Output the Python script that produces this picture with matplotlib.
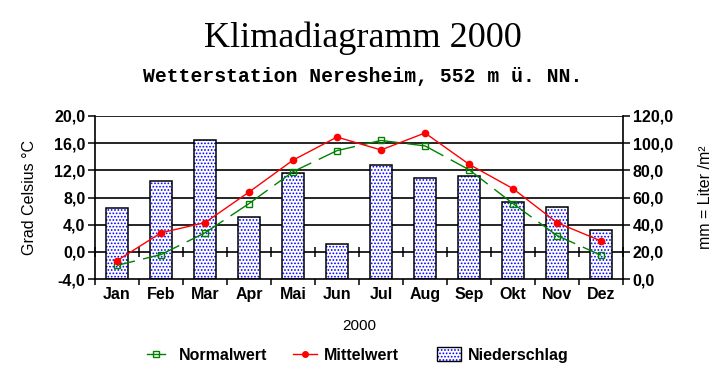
import numpy as np
import matplotlib
matplotlib.use("Agg")
from matplotlib import pyplot as plt
from matplotlib.ticker import FuncFormatter, FixedLocator
from matplotlib.lines import Line2D
from matplotlib.patches import Patch
from matplotlib.legend_handler import HandlerTuple

months = ["Jan", "Feb", "Mar", "Apr", "Mai", "Jun", "Jul", "Aug", "Sep", "Okt", "Nov", "Dez"]
niederschlag = [52, 72, 102, 46, 78, 26, 84, 74, 76, 57, 53, 36]
mittelwert = [-1.3, 2.8, 4.3, 8.8, 13.5, 16.9, 15.0, 17.5, 12.9, 9.3, 4.3, 1.6]
normalwert = [-2.0, -0.4, 2.8, 7.1, 11.8, 14.9, 16.4, 15.6, 12.1, 7.1, 2.4, -0.5]
temp_ticks = [-4, 0, 4, 8, 12, 16, 20]
mm_ticks = [0, 20, 40, 60, 80, 100, 120]

plt.rcParams['font.family'] = ['Liberation Sans', 'DejaVu Sans']
plt.rcParams['hatch.linewidth'] = 0.8
comma = FuncFormatter(lambda v, p: f"{v:.1f}".replace(".", ","))
HATCH = "....."

fig = plt.figure(figsize=(7.25, 3.84), dpi=100)
fig.patch.set_facecolor("white")
rect = [95/725, 1-279/384, 528/725, 163/384]

# precipitation axis underneath (bars + grid)
axp = fig.add_axes(rect)
x = np.arange(len(months))
axp.set_xlim(-0.5, 11.5)
axp.set_ylim(0, 120)
for v in mm_ticks[1:]:
    axp.axhline(v, color="black", lw=1.2, zorder=0)
axp.bar(x, niederschlag, width=0.52, color="white", edgecolor="#0000ff",
        hatch=HATCH, lw=0, zorder=2)
axp.bar(x, niederschlag, width=0.52, fill=False, edgecolor="black", lw=1.1, zorder=3)
axp.yaxis.tick_right()
axp.yaxis.set_label_position("right")
axp.set_yticks(mm_ticks)
axp.yaxis.set_major_formatter(comma)
axp.set_xticks(x)
axp.set_xticklabels(months)
axp.xaxis.set_minor_locator(FixedLocator(np.arange(-0.5, 12, 1)))
axp.tick_params(axis="x", which="major", length=0, pad=6, labelsize=11.5)
axp.tick_params(axis="x", which="minor", length=4, direction="out", width=1.1)
axp.tick_params(axis="y", length=5, width=1.1, labelsize=11.5, pad=2)
for lab in axp.get_xticklabels() + axp.get_yticklabels():
    lab.set_fontweight("bold")
for s in ["top", "left"]:
    axp.spines[s].set_visible(False)
axp.spines["right"].set_linewidth(1.2)
axp.spines["bottom"].set_linewidth(1.2)
axp.set_ylabel("mm = Liter /m²", fontsize=11.5, labelpad=18)
axp.set_xlabel("2000", fontsize=11, labelpad=12)

# temperature axis on top
axt = fig.add_axes(rect, sharex=axp)
axt.patch.set_alpha(0)
axt.set_ylim(-4, 20)

# Normalwert: dashed per segment, gap in the middle of each segment
pts = axt.transData.transform(np.column_stack([x, normalwert]))
gap = 6.0  # points
for i in range(len(x) - 1):
    seg = np.hypot(*(pts[i + 1] - pts[i])) * 72 / fig.dpi
    half = max((seg - gap) / 2, 1)
    axt.plot(x[i:i + 2], normalwert[i:i + 2], color="#008000", lw=1,
             ls=(0, (half, gap, half, 1000)), zorder=4)
axt.plot(x, normalwert, ls="none", marker="s", ms=4, mfc="none", mec="#008000",
         mew=1, zorder=4)
axt.plot(x, mittelwert, color="#ff0000", lw=1, marker="o", ms=4.5, zorder=5)
axt.set_yticks(temp_ticks)
axt.yaxis.set_major_formatter(comma)
axt.tick_params(axis="y", length=5, width=1.1, labelsize=11.5, pad=2)
for lab in axt.get_yticklabels():
    lab.set_fontweight("bold")
axt.spines["bottom"].set_position(("data", 0))
axt.spines["bottom"].set_visible(False)
axt.spines["top"].set_visible(False)
axt.spines["right"].set_visible(False)
axt.spines["left"].set_linewidth(1.2)
axt.tick_params(axis="x", which="major", length=0, labelbottom=False)
axt.tick_params(axis="x", which="minor", length=7, direction="inout", width=1.1)
axt.xaxis.set_minor_locator(FixedLocator(np.arange(-0.5, 12, 1)))
axt.set_ylabel("Grad Celsius °C", fontsize=11.5, labelpad=12)

fig.text(0.5, 1-38/384, "Klimadiagramm 2000", ha="center", va="center",
         fontsize=26, family="Liberation Serif")
fig.text(0.5, 1-76/384, "Wetterstation Neresheim, 552 m ü. NN.", ha="center",
         va="center", fontsize=14.2, family="Liberation Mono", fontweight="bold")

# legend: three separate entries
bar_handle = (Patch(facecolor="white", edgecolor="#0000ff", hatch=HATCH, lw=0),
              Patch(fill=False, edgecolor="black", lw=1))
entries = [
    (Line2D([], [], color="#008000", lw=1, marker="s", ms=4, mfc="none"), "Normalwert", 147, 1.1, 0.9, 0.7),
    (Line2D([], [], color="#ff0000", lw=1, marker="o", ms=4), "Mittelwert", 293, 1.5, 0.45, 0.7),
    (bar_handle, "Niederschlag", 437, 1.5, 0.45, 1.0),
]
for h, label, xpos, hl, pad, hh in entries:
    fig.legend([h], [label], loc="center left", bbox_to_anchor=(xpos/725, 1-355/384),
               frameon=False, prop={"size": 11.5, "weight": "bold"},
               handlelength=hl, handletextpad=pad, handleheight=hh,
               borderpad=0, borderaxespad=0,
               handler_map={tuple: HandlerTuple(ndivide=1)})

fig.savefig("out.png", dpi=100)
